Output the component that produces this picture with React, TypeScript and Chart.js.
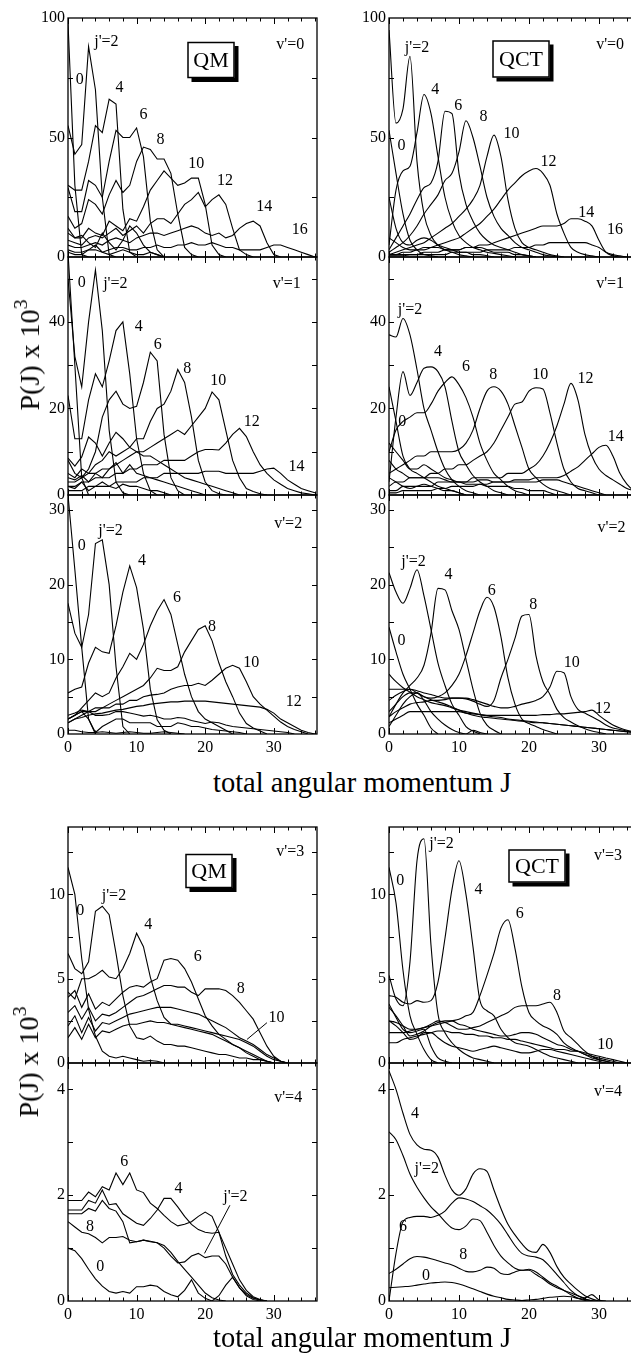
import React, { useEffect, useRef } from "react";
import { Chart, registerables } from "chart.js";

Chart.register(...registerables);

const FONT = '"Liberation Serif", "Times New Roman", serif';

// total angular momentum grid
const J = [0, 1, 2, 3, 4, 5, 6, 7, 8, 9, 10, 11, 12, 13, 14, 15, 16, 17, 18, 19, 20, 21, 22, 23, 24, 25, 26, 27, 28, 29, 30, 31, 32, 33, 34, 35, 36];
const X_TICKS = [0, 10, 20, 30];
const Y_TICKS_V0 = [0, 50, 100];
const Y_TICKS_V1 = [0, 20, 40];
const Y_TICKS_V2 = [0, 10, 20, 30];
const Y_TICKS_V3 = [0, 5, 10];
const Y_TICKS_V4 = [0, 2, 4];

// ---------- QM v'=0 ----------
const qm0_j0 = [98, 30, 1, 0];
const qm0_j2 = [55, 43, 47, 88, 70, 25, 1, 0];
const qm0_j4 = [30, 28, 28, 40, 55, 52, 66, 64, 20, 2, 0];
const qm0_j6 = [29, 19, 19, 32, 30, 25, 40, 53, 50, 50, 54, 42, 15, 3, 0];
const qm0_j8 = [17, 12, 14, 24, 22, 18, 26, 32, 27, 30, 40, 46, 45, 41, 41, 35, 18, 4, 1, 0];
const qm0_j10 = [10, 8, 8, 12, 10, 9, 15, 13, 11, 16, 15, 21, 28, 32, 36, 33, 30, 31, 33, 33, 22, 5, 1, 0];
const qm0_j12 = [7, 6, 5, 8, 9, 8, 10, 12, 9, 11, 13, 10, 14, 16, 16, 14, 18, 22, 24, 27, 21, 24, 26, 22, 12, 3, 1, 0];
const qm0_j14 = [5, 4, 4, 5, 6, 5, 7, 8, 7, 6, 8, 9, 10, 10, 9, 10, 11, 12, 13, 12, 10, 9, 10, 8, 9, 12, 14, 15, 13, 6, 1, 0];
const qm0_j16 = [3, 2, 2, 3, 3, 2, 3, 4, 4, 3, 3, 4, 4, 5, 4, 4, 5, 5, 6, 5, 5, 6, 5, 4, 4, 3, 3, 3, 3, 4, 5, 5, 4, 3, 2, 1, 0];
const qm0_u1 = [12, 8, 9, 6, 4, 10, 6, 3, 7, 13, 10, 5, 2, 1, 0];
const qm0_u2 = [2, 1, 1, 3, 5, 2, 1, 2, 3, 2, 1, 1, 2, 1, 0];

// ---------- QCT v'=0 ----------
const qct0_j0 = [53, 35, 18, 7, 3, 1, 0.5, 0];
const qct0_j2 = [95, 56, 62, 84, 40, 18, 9, 5, 3, 2, 1, 0.5, 0];
const qct0_j4 = [5, 28, 36, 38, 52, 68, 60, 42, 25, 15, 9, 6, 4, 3, 2, 1.5, 1, 0.5, 0];
const qct0_j6 = [3, 8, 13, 18, 24, 29, 31, 40, 61, 60, 35, 22, 15, 10, 7, 5, 4, 3, 2, 1, 0.5, 0];
const qct0_j8 = [2, 4, 6, 9, 13, 18, 22, 26, 32, 35, 44, 57, 50, 38, 25, 17, 12, 9, 6, 4, 3, 2, 1, 0.5, 0];
const qct0_j10 = [1, 2, 3, 4, 5, 6, 8, 10, 12, 14, 17, 20, 24, 30, 42, 51, 42, 24, 12, 6, 4, 3, 2, 1, 0.5, 0];
const qct0_j12 = [1, 1, 2, 2, 3, 3, 4, 5, 6, 7, 8, 10, 12, 14, 17, 20, 24, 28, 31, 34, 36, 37, 35, 30, 18, 10, 4, 2, 1, 0.5, 0];
const qct0_j14 = [1, 1, 1, 1, 1, 2, 2, 2, 3, 3, 3, 4, 4, 5, 5, 6, 7, 8, 9, 10, 11, 12, 13, 13, 13, 14, 16, 16, 15, 13, 7, 2, 0.5, 0];
const qct0_j16 = [0.5, 0.5, 0.5, 1, 1, 1, 1, 1, 1, 2, 2, 2, 2, 2, 3, 3, 3, 3, 4, 4, 4, 5, 5, 6, 6, 6, 6, 6, 6, 5, 4, 2, 1, 0.5, 0];
const qct0_u1 = [25, 12, 6, 5, 7, 8, 7, 5, 4, 3, 2, 2, 1, 1, 0.5, 0];
const qct0_u2 = [8, 6, 4, 3, 3, 4, 4, 4, 3, 3, 3, 4, 4, 4, 3, 2, 2, 2, 1, 1, 0.5, 0];

// ---------- QM v'=1 ----------
const qm1_j0 = [56, 30, 4, 0];
const qm1_j2 = [50, 32, 25, 40, 52, 38, 15, 3, 0.5, 0];
const qm1_j4 = [23, 13, 13, 22, 28, 25, 31, 38, 40, 28, 13, 5, 1, 0];
const qm1_j6 = [8, 5, 4, 6, 10, 18, 22, 24, 21, 20, 20.5, 26, 33, 31, 14, 4, 1, 0];
const qm1_j8 = [5, 4, 6, 5, 7, 8, 10, 9, 10, 11, 13, 13, 17, 20, 21, 24, 29, 26, 18, 8, 3, 1, 0.3, 0];
const qm1_j10 = [3, 3, 4, 5, 5, 6, 6, 7, 8, 9, 10, 10, 11, 12, 13, 14, 15, 14, 16, 18, 20, 23.8, 22, 15, 8, 4, 1.5, 0.8, 0.3, 0];
const qm1_j12 = [2, 2, 3, 3, 4, 4, 4, 5, 5, 6, 6, 7, 7, 7, 8, 8, 8, 8, 9, 10, 10.5, 10.5, 10.4, 12, 14, 15.4, 13.5, 10, 7, 5, 3.5, 2.5, 1.5, 1, 0.5, 0.3, 0];
const qm1_j14 = [1, 1, 1, 2, 2, 2, 2, 3, 3, 3, 3, 4, 4, 4, 5, 5, 5, 5, 5, 5, 5.5, 5.5, 5.5, 5, 5, 5, 5, 5, 5.5, 6, 6.2, 5, 3.5, 2.5, 1.5, 1, 0.5];
const qm1_u1 = [8.5, 6.7, 8.8, 13.4, 12, 9, 12, 14.5, 13, 11, 10, 9, 9, 8, 7, 6, 5, 4, 3.5, 3, 2.5, 2, 1.5, 1, 0.5, 0];
const qm1_u2 = [4, 3.5, 4.5, 3, 5, 4, 6, 7.5, 5, 7, 5, 4.5, 4, 3.5, 3, 2.5, 2, 1.5, 1, 0.5, 0];
const qm1_u3 = [2, 1.5, 3, 1, 2, 3, 2, 1.5, 2.5, 2, 2, 1.5, 1, 1, 0.5, 0];

// ---------- QCT v'=1 ----------
const qct1_j0 = [25, 17, 9, 6, 5, 4, 3, 2, 1.5, 1, 0.5, 0];
const qct1_j2 = [37, 36.5, 40.8, 37, 29, 20, 15, 10, 6, 3.5, 2, 1, 0.5, 0];
const qct1_j4 = [3, 18, 28.5, 23, 26, 29.3, 29.6, 28.5, 25, 17, 10, 7, 4.5, 3, 2, 1, 0.5, 0];
const qct1_j6 = [10, 15, 17, 18, 19, 19, 21, 24, 26, 27.3, 25.5, 22.5, 18, 12, 8, 5, 3.5, 2, 1, 0.5, 0];
const qct1_j8 = [5, 6, 7, 8, 9, 9, 10, 10, 10, 10, 10.5, 12, 15, 20, 24, 25, 24, 21, 16, 11, 6, 4, 2.5, 1.5, 1, 0.5, 0];
const qct1_j10 = [2, 3, 3, 4, 4, 4, 5, 5, 6, 6, 7, 7, 8, 9, 10, 12, 15, 18, 21, 21.5, 24, 24.8, 24.5, 19, 12, 6, 3, 1.5, 1, 0.5, 0];
const qct1_j12 = [1, 1, 2, 2, 2, 2, 2, 3, 3, 3, 3, 3, 4, 4, 4, 4, 4, 5, 5, 5, 6, 7, 9, 12, 16, 21, 25.8, 22, 14, 9, 6, 4.5, 3.5, 2.5, 1.5, 1, 0.5];
const qct1_j14 = [0.5, 0.5, 1, 1, 1, 1, 1, 1.5, 1.5, 2, 2, 2, 2, 2.5, 2.5, 3, 3, 3, 3.5, 3.5, 3.5, 4, 4, 4, 4, 4.5, 5.5, 6.5, 8, 9.5, 11, 11.5, 9, 5, 2.5, 1, 0.5];
const qct1_u1 = [12, 10, 8, 6, 6, 7, 6, 5, 4, 3.5, 3, 3, 3, 3.5, 3.5, 3, 3, 3, 3, 3, 3, 3, 3.5, 3.5, 3.5, 3, 2.5, 2, 1.5, 1, 0.5, 0];
const qct1_u2 = [8, 6, 5, 4, 4, 4, 4, 4, 3.5, 3, 3, 2.5, 2.5, 2.5, 2, 2, 2, 2, 1.5, 1.5, 1, 1, 1, 0.5, 0];
const qct1_u3 = [4, 3, 2, 1.5, 2, 2.5, 2, 1.5, 1, 1, 0.5, 0];

// ---------- QM v'=2 ----------
const qm2_j0 = [32, 22, 11.6, 2, 0];
const qm2_j2 = [17.5, 13.5, 11.6, 16, 25.5, 26, 20, 9, 1, 0];
const qm2_j4 = [5.5, 6, 6.3, 9.5, 11.6, 11, 10.8, 14.5, 19, 22.5, 19.6, 14, 6, 1.9, 0.5, 0];
const qm2_j6 = [2, 2.5, 3.5, 4.5, 5.5, 5, 5.5, 7.5, 9, 10.8, 10, 12, 14.5, 16.5, 18, 16, 12, 8, 5, 3, 2, 1.5, 1, 0.5, 0];
const qm2_j8 = [1.5, 2, 2.5, 3, 3.5, 3.5, 4, 4.5, 5, 5.5, 6, 6.5, 7.5, 8.8, 8.5, 8.5, 9, 11, 12.5, 14, 14.5, 12.5, 9.5, 7, 5, 2.8, 1.4, 0.8, 0.4, 0];
const qm2_j10 = [2, 2.5, 3, 3, 3, 3.5, 3.5, 4, 4, 4.5, 4.5, 5, 5.2, 5.3, 5.5, 6, 6.3, 6.5, 6.5, 6.8, 6.5, 7.2, 8, 8.8, 9.2, 8.8, 7, 5, 4, 3.2, 2.4, 1.6, 1, 0.6, 0.3, 0];
const qm2_j12 = [1.5, 2, 2.2, 2.5, 2.7, 2.8, 3, 3.2, 3.3, 3.5, 3.7, 3.8, 4, 4.1, 4.2, 4.3, 4.3, 4.4, 4.4, 4.4, 4.4, 4.3, 4.2, 4.1, 4, 3.9, 3.8, 3.7, 3.6, 3.3, 2.8, 2, 1.5, 1, 0.5, 0.2, 0];
const qm2_u1 = [2.5, 2.8, 3.2, 3, 2.5, 2.5, 2.6, 3, 3, 2.8, 2.6, 2.4, 2.5, 2.3, 2, 2, 2.2, 2.1, 1.8, 1.6, 1.4, 1.6, 1.5, 1.2, 1, 0.9, 0.8, 0.7, 0.6, 0.5, 0.4, 0.3, 0.2, 0];
const qm2_u2 = [2, 2.5, 3, 2, 0.2, 1, 1.5, 2, 2, 1.5, 1.5, 1.5, 1.5, 1, 1, 1, 1.5, 1.3, 1, 1, 0.8, 0.6, 0.5, 0.4, 0.3, 0.2, 0];
const qm2_u3 = [0.5, 0.5, 0.3, 0.2, 0.2, 0.3, 0.2, 0.1, 0.2, 0.3, 0.2, 0.1, 0.1, 0.2, 0.3, 0.2, 0.1, 0];

// ---------- QCT v'=2 ----------
const qct2_j0 = [14.3, 11, 8, 6, 4, 2.5, 0.8, 0];
const qct2_j2 = [21.6, 19, 17.5, 19.5, 22, 18.5, 14, 9.5, 6.5, 4, 2.5, 1, 0.4, 0];
const qct2_j4 = [2.3, 4, 5.5, 6.5, 7.5, 9.2, 13.5, 19.5, 19.3, 16.5, 14, 10, 6, 2.8, 1.2, 0.5, 0];
const qct2_j6 = [1, 2.5, 4, 5, 5.5, 5, 4.8, 5, 5.5, 6.5, 8, 10.5, 13.5, 16.5, 18.3, 17, 13, 7.5, 4, 2, 1.4, 1, 0.6, 0.3, 0];
const qct2_j8 = [4.5, 5.2, 5.7, 6, 5.8, 5.5, 5.3, 5, 4.8, 4.8, 4.8, 4.7, 4.4, 4, 3.7, 4.5, 7.5, 10, 12.8, 15.8, 16, 10.5, 7, 5.3, 3.3, 2.2, 1.6, 1.1, 0.7, 0.4, 0.2, 0];
const qct2_j10 = [2.3, 3, 3.5, 4, 4.2, 4.3, 4.5, 4.5, 4.6, 4.8, 4.8, 4.8, 4.6, 4.3, 4, 3.7, 3.5, 3.5, 3.7, 4, 4.2, 4.5, 5, 6.3, 8.4, 8.2, 5, 3.3, 2.8, 2.3, 1.8, 1.2, 0.8, 0.6, 0.4, 0.2];
const qct2_j12 = [1.5, 2, 2.5, 3, 3, 3, 3, 3, 3, 3, 3, 2.8, 2.7, 2.6, 2.5, 2.5, 2.5, 2.5, 2.5, 2.5, 2.5, 2.5, 2.6, 2.6, 2.7, 2.7, 2.8, 2.9, 3, 3.2, 2.5, 1.8, 1.2, 0.8, 0.5, 0.3];
const qct2_u1 = [8, 7, 6.2, 5.6, 5, 4.6, 4.2, 4, 3.8, 3.5, 3.2, 3, 2.8, 2.6, 2.4, 2.3, 2.2, 2, 1.9, 1.8, 1.7, 1.6, 1.5, 1.4, 1.3, 1.2, 1.1, 1, 0.9, 0.8, 0.7, 0.6, 0.5, 0.4, 0.3, 0.2];
const qct2_u2 = [6, 6, 6, 6, 5.5, 5, 4.6, 4.3, 4, 3.6, 3.2, 2.8, 2.5, 2.3, 2.2, 2.1, 2, 1.9, 1.8, 1.7, 1.6, 1.5, 1.5, 1.4, 1.3, 1.2, 1.1, 1, 0.9, 0.8, 0.7, 0.6, 0.5, 0.4, 0.3, 0.2];
const qct2_u3 = [3, 4, 5, 5.5, 5.5, 4.5, 3, 2, 1.2, 0.6, 0.2, 0, 0.5, 0.2, 0];

// ---------- QM v'=3 ----------
const qm3_j0 = [11.6, 10, 6.2, 3.2, 1.6, 0.7, 0.4, 0.3, 0.4, 0.3, 0.2, 0.1, 0.15, 0.1, 0];
const qm3_j2 = [6.5, 5.6, 5.3, 6, 9, 9.3, 8.8, 6.5, 4, 2.2, 1.5, 1.4, 1.6, 1.3, 1.1, 1.1, 1, 1, 0.9, 0.8, 0.7, 0.6, 0.5, 0.5, 0.4, 0.3, 0.3, 0.2, 0.2, 0.1, 0];
const qm3_j4 = [4.2, 3.8, 5, 5, 5.2, 5.5, 5.1, 5, 5.6, 6.5, 7.7, 6.9, 5.1, 3.7, 2.7, 2.3, 2.2, 2.1, 2, 1.9, 1.8, 1.7, 1.5, 1.3, 1.1, 0.9, 0.7, 0.5, 0.3, 0.1, 0];
const qm3_j6 = [3.9, 4.3, 3.3, 4.1, 3.2, 3.6, 3.4, 3.8, 4.2, 4.5, 4.6, 4.5, 4.8, 5.0, 6.1, 6.2, 6.1, 5.6, 4.8, 3.8, 2.8, 2.2, 1.7, 1.4, 1.1, 0.9, 0.6, 0.4, 0.2, 0.1, 0];
const qm3_j8 = [3.0, 3.4, 2.6, 3.3, 2.5, 2.9, 2.8, 3.0, 3.3, 3.6, 3.9, 4.0, 4.2, 4.4, 4.6, 4.6, 4.5, 4.5, 4.2, 4.0, 4.4, 4.4, 4.4, 4.3, 4.0, 3.6, 3.1, 2.6, 1.8, 1.0, 0.4, 0.1, 0];
const qm3_j10 = [2.2, 2.8, 1.8, 2.7, 1.9, 2.4, 2.3, 2.5, 2.7, 2.9, 3.0, 3.1, 3.2, 3.3, 3.3, 3.3, 3.2, 3.1, 3.0, 2.9, 2.7, 2.5, 2.3, 2.1, 1.8, 1.5, 1.3, 1.1, 0.8, 0.5, 0.3, 0.1, 0];
const qm3_u1 = [1.5, 2.1, 1.4, 2.3, 1.5, 1.9, 1.8, 2.0, 2.2, 2.3, 2.3, 2.4, 2.5, 2.4, 2.4, 2.3, 2.3, 2.2, 2.1, 2.0, 1.9, 1.8, 1.7, 1.6, 1.5, 1.4, 1.2, 1.0, 0.7, 0.4, 0.2, 0.1, 0];

// ---------- QCT v'=3 ----------
const qct3_j0 = [11.6, 9.5, 5.5, 2.8, 1.7, 0.8, 0.2, 0];
const qct3_j2 = [5.2, 3.8, 3.4, 6, 12, 13.3, 7, 2.9, 1.8, 1.2, 0.8, 0.5, 0.3, 0.2, 0.1, 0];
const qct3_j4 = [4, 3.9, 3.6, 3.5, 3.7, 3.6, 3.7, 4.8, 7.4, 10.3, 12, 10, 6.9, 3.7, 3.1, 2.8, 2, 1.5, 1.2, 1.1, 1, 0.8, 0.6, 0.4, 0.3, 0.2, 0.1, 0];
const qct3_j6 = [1.8, 1.8, 1.8, 1.9, 2, 2.1, 2.2, 2.3, 2.4, 2.5, 2.6, 2.8, 3.0, 4.0, 5.2, 6.5, 8.0, 8.5, 6.8, 4.5, 3.0, 2.5, 2.2, 2, 1.7, 1.2, 0.9, 0.7, 0.5, 0.3, 0.2, 0.1, 0];
const qct3_j8 = [2.5, 2.4, 2.2, 2, 2, 2.1, 2.3, 2.5, 2.4, 2.2, 2, 2, 2.1, 2.2, 2.4, 2.6, 2.8, 3, 3.3, 3.4, 3.4, 3.4, 3.5, 3.6, 3, 1.9, 1.5, 1.1, 0.7, 0.4, 0.2, 0.1, 0];
const qct3_j10 = [1.2, 1.2, 1.4, 1.5, 1.6, 1.7, 1.8, 1.9, 1.9, 1.8, 1.8, 1.7, 1.7, 1.6, 1.6, 1.5, 1.5, 1.4, 1.4, 1.3, 1.2, 1.1, 1, 0.9, 0.8, 0.8, 0.7, 0.7, 0.6, 0.5, 0.4, 0.3, 0.2, 0.1, 0];
const qct3_u1 = [3.3, 2.8, 2.2, 1.6, 1.7, 1.9, 2.2, 2.4, 2.5, 2.5, 2.3, 2.2, 2, 1.9, 1.8, 1.7, 1.6, 1.6, 1.7, 1.8, 1.8, 1.7, 1.5, 1.3, 1.1, 1, 0.8, 0.7, 0.5, 0.4, 0.3, 0.2, 0.1, 0];
const qct3_u2 = [2.5, 2.2, 1.8, 1.4, 1.5, 1.8, 1.8, 1.5, 1.2, 1, 0.9, 0.8, 0.7, 0.8, 0.9, 1, 0.9, 0.8, 0.7, 0.6, 0.6, 0.7, 0.8, 0.8, 0.7, 0.6, 0.5, 0.4, 0.3, 0.2, 0.1, 0];
const qct3_u3 = [3.5, 2.7, 2, 1.8, 1.9, 2, 1, 0.3, 0.1, 0];

// ---------- QM v'=4 ----------
const qm4_j0 = [1.0, 0.95, 0.8, 0.6, 0.42, 0.28, 0.18, 0.15, 0.18, 0.15, 0.27, 0.27, 0.3, 0.28, 0.18, 0.12, 0.08, 0.2, 0.4, 0.15, 0.05, 0, 0.1, 0.3, 0.45, 0.25, 0.1, 0.03, 0];
const qm4_j2 = [1.65, 1.65, 1.65, 1.75, 1.7, 1.9, 1.75, 1.7, 1.5, 1.1, 1.12, 1.15, 1.12, 1.1, 1.0, 0.85, 0.72, 0.74, 0.85, 0.9, 0.82, 0.85, 0.85, 0.7, 0.45, 0.25, 0.12, 0.05, 0.02, 0];
const qm4_j4 = [1.72, 1.72, 1.72, 1.9, 1.85, 2.1, 1.82, 1.84, 1.65, 1.56, 1.47, 1.43, 1.56, 1.72, 1.94, 1.94, 1.78, 1.6, 1.45, 1.35, 1.3, 1.28, 1.3, 1.0, 0.7, 0.4, 0.2, 0.08, 0.03, 0];
const qm4_j6 = [1.9, 1.9, 1.9, 2.06, 1.97, 2.16, 2.1, 2.42, 2.2, 2.42, 2.1, 2.05, 1.85, 1.75, 1.62, 1.5, 1.42, 1.45, 1.5, 1.6, 1.68, 1.6, 1.3, 0.85, 0.5, 0.3, 0.15, 0.06, 0.02, 0];
const qm4_j8 = [1.5, 1.4, 1.3, 1.27, 1.2, 1.1, 1.2, 1.2, 1.22, 1.15, 1.12, 1.15, 1.13, 1.1, 1.05, 0.92, 0.75, 0.6, 0.45, 0.3, 0.15, 0.06, 0.02, 0];

// ---------- QCT v'=4 ----------
const qct4_j0 = [0.25, 0.26, 0.27, 0.28, 0.3, 0.32, 0.34, 0.35, 0.36, 0.35, 0.32, 0.28, 0.23, 0.18, 0.13, 0.09, 0.06, 0.03, 0.02, 0.01, 0.02, 0.03, 0.05, 0.07, 0.08, 0.09, 0.08, 0.05, 0.03, 0.01, 0];
const qct4_j2 = [3.2, 3.05, 2.75, 2.4, 2.15, 1.95, 1.78, 1.65, 1.5, 1.38, 1.35, 1.42, 1.55, 1.52, 1.3, 1.05, 0.85, 0.72, 0.62, 0.58, 0.6, 0.55, 0.45, 0.35, 0.28, 0.2, 0.12, 0.05, 0.01, 0];
const qct4_j4 = [4.35, 4.0, 3.55, 3.15, 2.95, 2.87, 2.85, 2.72, 2.38, 2.1, 2.0, 2.12, 2.4, 2.5, 2.45, 2.1, 1.75, 1.45, 1.25, 1.08, 0.95, 0.92, 1.07, 0.92, 0.65, 0.45, 0.32, 0.2, 0.1, 0.04, 0];
const qct4_j6 = [0, 0.9, 1.5, 1.58, 1.6, 1.6, 1.58, 1.62, 1.7, 1.85, 1.95, 1.93, 1.88, 1.8, 1.72, 1.6, 1.45, 1.25, 1.05, 0.9, 0.85, 0.83, 0.78, 0.65, 0.5, 0.35, 0.2, 0.1, 0.04, 0];
const qct4_j8 = [0.52, 0.6, 0.7, 0.8, 0.84, 0.83, 0.8, 0.76, 0.72, 0.68, 0.62, 0.56, 0.55, 0.58, 0.64, 0.62, 0.52, 0.5, 0.55, 0.58, 0.58, 0.5, 0.42, 0.32, 0.25, 0.2, 0.15, 0.1, 0.06, 0.12, 0.02, 0];

type Label = [string, number, number];
type Box = { text: string; j: number; p: number; w: number; h: number };
type PanelDef = {
  left: number;
  top: number;
  width: number;
  height: number;
  xMax: number;
  yMax: number;
  yTicks: number[];
  yMinor: number;
  curves: number[][];
  smooth: boolean;
  showX: boolean;
  labels: Label[];
  box?: Box;
  leaders?: number[][];
};

const LX = 68;
const RX = 389;
const LW = 249;
const RW = 254;
const XMAX = 36.3;

const PANELS: PanelDef[] = [
  {
    left: LX, top: 18, width: LW, height: 239, xMax: XMAX, yMax: 100, yTicks: Y_TICKS_V0, yMinor: 25,
    curves: [qm0_j0, qm0_j2, qm0_j4, qm0_j6, qm0_j8, qm0_j10, qm0_j12, qm0_j14, qm0_j16, qm0_u1, qm0_u2],
    smooth: false, showX: false,
    labels: [["j'=2", 5.6, 90], ["0", 1.7, 74], ["4", 7.5, 70.6], ["6", 11, 59.4], ["8", 13.5, 49], ["10", 18.7, 39], ["12", 22.9, 32], ["14", 28.6, 21], ["16", 33.8, 11.3], ["v'=0", 32.4, 88.7]],
    box: { text: "QM", j: 20.9, p: 82.4, w: 47, h: 36 },
  },
  {
    left: RX, top: 18, width: RW, height: 239, xMax: XMAX, yMax: 100, yTicks: Y_TICKS_V0, yMinor: 25,
    curves: [qct0_j0, qct0_j2, qct0_j4, qct0_j6, qct0_j8, qct0_j10, qct0_j12, qct0_j14, qct0_j16, qct0_u1, qct0_u2],
    smooth: true, showX: false,
    labels: [["j'=2", 4, 87.6], ["0", 1.8, 46.5], ["4", 6.6, 70], ["6", 9.9, 63.4], ["8", 13.5, 58.5], ["10", 17.5, 51.4], ["12", 22.8, 40], ["14", 28.2, 18.3], ["16", 32.3, 11.3], ["v'=0", 31.6, 88.7]],
    box: { text: "QCT", j: 18.9, p: 83, w: 57, h: 37 },
  },
  {
    left: LX, top: 257, width: LW, height: 238, xMax: XMAX, yMax: 55, yTicks: Y_TICKS_V1, yMinor: 10,
    curves: [qm1_j0, qm1_j2, qm1_j4, qm1_j6, qm1_j8, qm1_j10, qm1_j12, qm1_j14, qm1_u1, qm1_u2, qm1_u3],
    smooth: false, showX: false,
    labels: [["0", 2, 49], ["j'=2", 6.9, 48.8], ["4", 10.3, 38.8], ["6", 13.1, 34.6], ["8", 17.4, 29.2], ["10", 21.9, 26.5], ["12", 26.8, 16.9], ["14", 33.3, 6.5], ["v'=1", 31.9, 48.8]],
  },
  {
    left: RX, top: 257, width: RW, height: 238, xMax: XMAX, yMax: 55, yTicks: Y_TICKS_V1, yMinor: 10,
    curves: [qct1_j0, qct1_j2, qct1_j4, qct1_j6, qct1_j8, qct1_j10, qct1_j12, qct1_j14, qct1_u1, qct1_u2, qct1_u3],
    smooth: true, showX: false,
    labels: [["j'=2", 3, 42.7], ["0", 1.9, 16.9], ["4", 7, 33], ["6", 11, 29.6], ["8", 14.9, 27.7], ["10", 21.6, 27.7], ["12", 28.1, 26.9], ["14", 32.4, 13.5], ["v'=1", 31.6, 48.8]],
  },
  {
    left: LX, top: 495, width: LW, height: 239, xMax: XMAX, yMax: 32, yTicks: Y_TICKS_V2, yMinor: 5,
    curves: [qm2_j0, qm2_j2, qm2_j4, qm2_j6, qm2_j8, qm2_j10, qm2_j12, qm2_u1, qm2_u2, qm2_u3],
    smooth: false, showX: true,
    labels: [["0", 2, 25.2], ["j'=2", 6.2, 27.2], ["4", 10.8, 23.2], ["6", 15.9, 18.3], ["8", 21, 14.3], ["10", 26.7, 9.6], ["12", 32.9, 4.3], ["v'=2", 32.1, 28.1]],
  },
  {
    left: RX, top: 495, width: RW, height: 239, xMax: XMAX, yMax: 32, yTicks: Y_TICKS_V2, yMinor: 5,
    curves: [qct2_j0, qct2_j2, qct2_j4, qct2_j6, qct2_j8, qct2_j10, qct2_j12, qct2_u1, qct2_u2, qct2_u3],
    smooth: true, showX: true,
    labels: [["j'=2", 3.5, 23.1], ["0", 1.8, 12.5], ["4", 8.5, 21.3], ["6", 14.7, 19.2], ["8", 20.6, 17.3], ["10", 26.1, 9.6], ["12", 30.6, 3.4], ["v'=2", 31.8, 27.6]],
  },
  {
    left: LX, top: 827, width: LW, height: 236, xMax: XMAX, yMax: 14, yTicks: Y_TICKS_V3, yMinor: 2.5,
    curves: [qm3_j0, qm3_j2, qm3_j4, qm3_j6, qm3_j8, qm3_j10, qm3_u1],
    smooth: false, showX: false,
    labels: [["0", 1.8, 9.05], ["j'=2", 6.7, 9.94], ["4", 11.7, 8.17], ["6", 18.9, 6.3], ["8", 25.2, 4.42], ["10", 30.4, 2.7], ["v'=3", 32.4, 12.5]],
    box: { text: "QM", j: 20.5, p: 11.4, w: 47, h: 34 },
    leaders: [[26.1, 1.4, 29, 2.39]],
  },
  {
    left: RX, top: 827, width: RW, height: 236, xMax: XMAX, yMax: 14, yTicks: Y_TICKS_V3, yMinor: 2.5,
    curves: [qct3_j0, qct3_j2, qct3_j4, qct3_j6, qct3_j8, qct3_j10, qct3_u1, qct3_u2, qct3_u3],
    smooth: true, showX: false,
    labels: [["0", 1.6, 10.8], ["j'=2", 7.5, 13], ["4", 12.8, 10.3], ["6", 18.7, 8.86], ["8", 24, 3.96], ["10", 30.9, 1.07], ["v'=3", 31.3, 12.3]],
    box: { text: "QCT", j: 21.1, p: 11.7, w: 57, h: 33 },
  },
  {
    left: LX, top: 1063, width: LW, height: 238, xMax: XMAX, yMax: 4.5, yTicks: Y_TICKS_V4, yMinor: 1,
    curves: [qm4_j0, qm4_j2, qm4_j4, qm4_j6, qm4_j8],
    smooth: false, showX: true,
    labels: [["6", 8.2, 2.63], ["4", 16.1, 2.13], ["j'=2", 24.4, 1.97], ["8", 3.2, 1.4], ["0", 4.7, 0.65], ["v'=4", 32.1, 3.85]],
    leaders: [[23.6, 1.81, 19.9, 0.9]],
  },
  {
    left: RX, top: 1063, width: RW, height: 238, xMax: XMAX, yMax: 4.5, yTicks: Y_TICKS_V4, yMinor: 1,
    curves: [qct4_j0, qct4_j2, qct4_j4, qct4_j6, qct4_j8],
    smooth: true, showX: true,
    labels: [["4", 3.7, 3.54], ["j'=2", 5.4, 2.5], ["6", 2, 1.4], ["8", 10.6, 0.87], ["0", 5.3, 0.47], ["v'=4", 31.3, 3.95]],
  },
];

const PAD_L = 56;
const PAD_R = 12;
const PAD_T = 14;
const PAD_B = 30;

function decorPlugin(def: PanelDef) {
  return {
    id: "decor",
    afterDatasetsDraw(chart: any) {
      const { ctx, chartArea: a, scales } = chart;
      const x = scales.x;
      const y = scales.y;
      ctx.save();
      ctx.strokeStyle = "#000";
      ctx.fillStyle = "#000";
      // frame
      ctx.lineWidth = 1.3;
      ctx.strokeRect(a.left, a.top, a.right - a.left, a.bottom - a.top);
      // inward ticks
      ctx.lineWidth = 1;
      ctx.beginPath();
      for (let t = 0; t <= def.xMax; t += 2) {
        const px = Math.round(x.getPixelForValue(t)) + 0.5;
        const len = t % 10 === 0 ? 6 : 3.5;
        ctx.moveTo(px, a.bottom);
        ctx.lineTo(px, a.bottom - len);
        ctx.moveTo(px, a.top);
        ctx.lineTo(px, a.top + len);
      }
      for (let k = 1; k * def.yMinor < def.yMax; k++) {
        const py = Math.round(y.getPixelForValue(k * def.yMinor)) + 0.5;
        ctx.moveTo(a.left, py);
        ctx.lineTo(a.left + 5, py);
        ctx.moveTo(a.right, py);
        ctx.lineTo(a.right - 5, py);
      }
      ctx.stroke();
      // leader lines
      if (def.leaders) {
        ctx.beginPath();
        for (const [j1, p1, j2, p2] of def.leaders) {
          ctx.moveTo(x.getPixelForValue(j1), y.getPixelForValue(p1));
          ctx.lineTo(x.getPixelForValue(j2), y.getPixelForValue(p2));
        }
        ctx.stroke();
      }
      // curve labels
      ctx.font = `16px ${FONT}`;
      ctx.textAlign = "center";
      ctx.textBaseline = "middle";
      for (const [t, j, p] of def.labels) {
        ctx.fillText(t, x.getPixelForValue(j), y.getPixelForValue(p));
      }
      // QM / QCT box
      if (def.box) {
        const b = def.box;
        const cx = Math.round(x.getPixelForValue(b.j));
        const cy = Math.round(y.getPixelForValue(b.p));
        const l = cx - b.w / 2;
        const tp = cy - b.h / 2;
        ctx.fillStyle = "#000";
        ctx.fillRect(l + 4, tp + 4, b.w, b.h);
        ctx.fillStyle = "#fff";
        ctx.fillRect(l, tp, b.w, b.h);
        ctx.lineWidth = 1.5;
        ctx.strokeRect(l + 0.5, tp + 0.5, b.w - 1, b.h - 1);
        ctx.fillStyle = "#000";
        ctx.font = `22px ${FONT}`;
        ctx.fillText(b.text, cx, cy + 1);
      }
      ctx.restore();
    },
  };
}

function Panel({ def }: { def: PanelDef }) {
  const ref = useRef<HTMLCanvasElement>(null);
  const w = def.width + PAD_L + PAD_R;
  const h = def.height + PAD_T + PAD_B;
  useEffect(() => {
    const tickFont = { family: FONT, size: 16 };
    const chart = new Chart(ref.current as HTMLCanvasElement, {
      type: "line",
      data: {
        datasets: def.curves.map((c) => ({
          data: c.map((v, i) => ({ x: J[i], y: v })),
          borderColor: "#000",
          borderWidth: 1.1,
          pointRadius: 0,
          fill: false,
          tension: 0,
          cubicInterpolationMode: def.smooth ? "monotone" : "default",
        })),
      },
      options: {
        responsive: false,
        animation: false,
        devicePixelRatio: 1,
        events: [],
        layout: { padding: { top: PAD_T, right: PAD_R, left: 0, bottom: 0 } },
        plugins: { legend: { display: false }, tooltip: { enabled: false } },
        scales: {
          x: {
            type: "linear",
            min: 0,
            max: def.xMax,
            afterFit: (s: any) => {
              s.height = PAD_B;
            },
            afterBuildTicks: (s: any) => {
              s.ticks = X_TICKS.map((v) => ({ value: v }));
            },
            ticks: { display: def.showX, font: tickFont, color: "#000", padding: 4, maxRotation: 0, autoSkip: false },
            grid: { display: false, drawTicks: false },
            border: { display: false },
          },
          y: {
            type: "linear",
            min: 0,
            max: def.yMax,
            afterFit: (s: any) => {
              s.width = PAD_L;
            },
            afterBuildTicks: (s: any) => {
              s.ticks = def.yTicks.map((v) => ({ value: v }));
            },
            ticks: { font: tickFont, color: "#000", padding: 3, autoSkip: false },
            grid: { display: false, drawTicks: false },
            border: { display: false },
          },
        },
      } as any,
      plugins: [decorPlugin(def)],
    });
    return () => chart.destroy();
  }, []);
  return (
    <canvas
      ref={ref}
      width={w}
      height={h}
      style={{ position: "absolute", left: def.left - PAD_L, top: def.top - PAD_T, width: w, height: h }}
    />
  );
}

const titleStyle: React.CSSProperties = {
  position: "absolute",
  left: 213,
  fontFamily: FONT,
  fontSize: 28.5,
  lineHeight: "28.5px",
  whiteSpace: "nowrap",
  color: "#000",
};

const yTitleStyle: React.CSSProperties = {
  position: "absolute",
  fontFamily: FONT,
  fontSize: 28,
  lineHeight: "28px",
  whiteSpace: "nowrap",
  color: "#000",
  transform: "translate(-50%, -50%) rotate(-90deg)",
};

export default function App() {
  return (
    <div
      style={{
        position: "absolute",
        left: 0,
        top: 0,
        width: 631,
        height: 1355,
        overflow: "hidden",
        background: "#fff",
      }}
    >
      {PANELS.map((p, i) => (
        <Panel key={i} def={p} />
      ))}
      <div style={{ ...titleStyle, top: 769 }}>total angular momentum J</div>
      <div style={{ ...titleStyle, top: 1324 }}>total angular momentum J</div>
      <div style={{ ...yTitleStyle, left: 30, top: 355 }}>
        P(J) x 10<sup style={{ fontSize: "0.7em", verticalAlign: "0.6em", lineHeight: 0 }}>3</sup>
      </div>
      <div style={{ ...yTitleStyle, left: 29, top: 1062 }}>
        P(J) x 10<sup style={{ fontSize: "0.7em", verticalAlign: "0.6em", lineHeight: 0 }}>3</sup>
      </div>
    </div>
  );
}
